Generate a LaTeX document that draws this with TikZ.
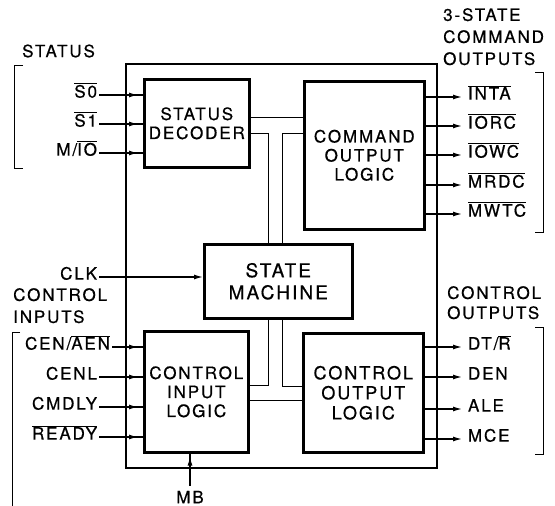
\documentclass[tikz,border=0pt]{standalone}
\usepackage{fontspec}
\setmainfont{TeX Gyre Heros}[LetterSpace=11, FakeBold=0.6]
\usetikzlibrary{positioning,arrows.meta}
\newcommand{\nbar}[1]{$\overline{\mbox{#1}}$}

\begin{document}
\begin{tikzpicture}[
    x=1pt, y=-1pt,
    font=\fontsize{17}{19}\selectfont,
    chip/.style={draw, line width=1.6pt, inner sep=0pt, anchor=north west},
    block/.style={draw, line width=2.6pt, align=center, anchor=north west, inner sep=0pt},
    pinlabel/.style={inner sep=0pt, outer sep=2pt},
    grouplabel/.style={inner sep=0pt, align=left, anchor=north west},
    sig/.style={line width=1.3pt},
    arr/.style={sig, -{Latex[length=9pt,width=5pt]}},
    bus/.style={line width=0.9pt},
    bracket/.style={line width=1pt}
]
\useasboundingbox (0,0) rectangle (555,506);

% Nodes
\node[chip, minimum width=311, minimum height=404] (chip) at (125,63) {};
\node[block, minimum width=105, minimum height=88] (dec) at (143,78) {STATUS\\DECODER};
\node[block, minimum width=120, minimum height=148] (cmd) at (303,80) {COMMAND\\OUTPUT\\LOGIC};
\node[block, minimum width=148, minimum height=74, font=\fontsize{19}{22}\selectfont] (fsm) at (203,243) {STATE\\MACHINE};
\node[block, minimum width=104, minimum height=121] (cin) at (143,330) {CONTROL\\INPUT\\LOGIC};
\node[block, minimum width=120, minimum height=119, font=\fontsize{18}{20}\selectfont] (cout) at (302,332) {CONTROL\\OUTPUT\\LOGIC};

% Group labels
\node[inner sep=0pt, anchor=west] (status) at (22,51) {STATUS};
\node[grouplabel, font=\fontsize{17}{22}\selectfont] (cmdout) at (443,8) {3-STATE\\COMMAND\\OUTPUTS};
\node[grouplabel, font=\fontsize{17}{22}\selectfont] (ctrlin) at (13,288) {CONTROL\\INPUTS};
\node[grouplabel, font=\fontsize{17}{20}\selectfont] (ctrlout) at (447,286) {CONTROL\\OUTPUTS};

% Input pins
\node[pinlabel, anchor=mid east] (s0) at (99,95) {\nbar{S0}};
\node[pinlabel, anchor=mid east] (s1) at (99,124) {\nbar{S1}};
\node[pinlabel, anchor=mid east] (mio) at (99,153) {M/\nbar{IO}};
\node[pinlabel, anchor=mid east] (clk) at (99,277) {CLK};
\node[pinlabel, anchor=mid east] (cen) at (112,347) {CEN/\nbar{AEN}};
\node[pinlabel, anchor=mid east] (cenl) at (99,377) {CENL};
\node[pinlabel, anchor=mid east] (cmdly) at (99,407) {CMDLY};
\node[pinlabel, anchor=mid east] (rdy) at (99,437) {\nbar{READY}};
\node[pinlabel, inner sep=3pt] (mb) at (190,497) {MB};

% Output pins
\node[pinlabel, anchor=mid west] (inta) at (466,97) {\nbar{INTA}};
\node[pinlabel, anchor=mid west] (iorc) at (466,126) {\nbar{IORC}};
\node[pinlabel, anchor=mid west] (iowc) at (466,155) {\nbar{IOWC}};
\node[pinlabel, anchor=mid west] (mrdc) at (466,185) {\nbar{MRDC}};
\node[pinlabel, anchor=mid west] (mwtc) at (466,214) {\nbar{MWTC}};
\node[pinlabel, anchor=mid west] (dtr) at (466,347) {DT/\nbar{R}};
\node[pinlabel, anchor=mid west] (den) at (466,377) {DEN};
\node[pinlabel, anchor=mid west] (ale) at (466,409) {ALE};
\node[pinlabel, anchor=mid west] (mce) at (466,439) {MCE};

% Helper points
\coordinate (inL) at ([xshift=13pt]chip.west);
\coordinate (inB) at ([yshift=12pt]chip.south);
\coordinate (busA) at ([xshift=-10pt]fsm.north);
\coordinate (busB) at ([xshift=4pt]fsm.north);
\coordinate (busC) at ([xshift=-10pt]fsm.south);
\coordinate (busD) at ([xshift=4pt]fsm.south);

% Paths
\foreach \p in {s0,s1,mio} {
  \draw[sig] (\p.mid east) -- (dec.west |- \p.mid east);
  \draw[arr] (\p.mid east) -- (inL |- \p.mid east);
}
\foreach \p in {cen,cenl,cmdly,rdy} {
  \draw[sig] (\p.mid east) -- (cin.west |- \p.mid east);
  \draw[arr] (\p.mid east) -- (inL |- \p.mid east);
}
\draw[arr] (clk.mid east) -- (fsm.west |- clk.mid east);
\draw[sig] (mb.north) -- (mb.north |- cin.south);
\draw[arr] (mb.north) -- (mb.north |- inB);

\foreach \p in {inta,iorc,iowc,mrdc,mwtc}
  \draw[arr, shorten >=4pt] (cmd.east |- \p.mid west) -- (\p.mid west);
\foreach \p in {dtr,den,ale,mce}
  \draw[arr, shorten >=4pt] (cout.east |- \p.mid west) -- (\p.mid west);

% Internal buses
\draw[bus] ([yshift=6pt]dec.east) -- ([yshift=6pt]dec.east -| cmd.west);
\draw[bus] ([yshift=-10pt]dec.east) -| (busA);
\draw[bus] ([yshift=22pt]cmd.west) -| (busB);
\draw[bus] (busC) |- ([yshift=6.5pt]cin.east);
\draw[bus] (busD) |- ([yshift=6.5pt]cout.west);
\draw[bus] ([yshift=-9pt]cin.east) -- ([yshift=-9pt]cin.east -| cout.west);

% Brackets
\draw[bracket] (23,65) -- (14,65) -- (14,168) -- (23,168);
\draw[bracket] (20,332) -- (12,332) -- (12,506);
\draw[bracket] (535,72) -- (543,72) -- (543,232) -- (535,232);
\draw[bracket] (535,327) -- (543,327) -- (543,454) -- (535,454);

\end{tikzpicture}
\end{document}
